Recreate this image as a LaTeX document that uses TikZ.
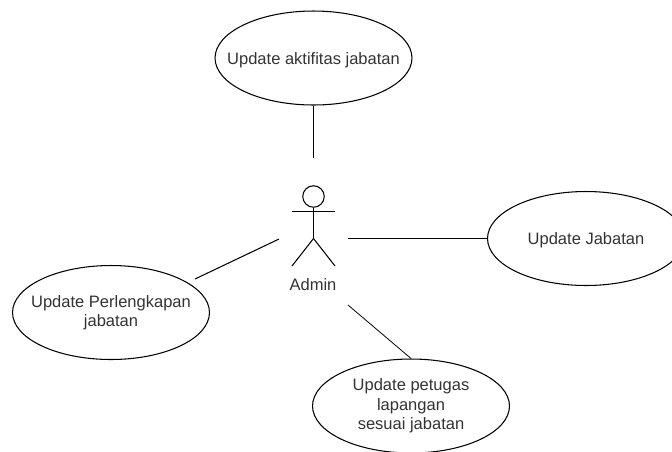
\documentclass[tikz,border=0pt]{standalone}
\usepackage{fontspec}
\setmainfont{Liberation Sans}
\usepackage{tikz}
\usetikzlibrary{shapes.geometric}

\begin{document}
\begin{tikzpicture}[x=0.02cm,y=-0.02cm,line width=0.6pt,usecasenode/.style={ellipse,draw,inner ysep=0pt,inner xsep=-0.6cm,minimum width=3.94cm,minimum height=1.88cm,align=center,text=black!80,font=\fontsize{9.4}{11}\selectfont,execute at begin node={\rule{0pt}{9pt}}},headnode/.style={circle,draw,inner sep=0pt,minimum size=0.43cm},labelnode/.style={rectangle,inner sep=1pt,text=black!80,font=\fontsize{9.4}{11}\selectfont}]
		\useasboundingbox (0, 0) rectangle (672, 451);
		\node [usecasenode] (aktifitas) at (313.5, 58) {Update aktifitas jabatan};
		\node [usecasenode] (jabatan) at (586, 238.5) {Update Jabatan};
		\node [usecasenode] (perlengkapan) at (111, 312.5) {Update Perlengkapan\\jabatan};
		\node [usecasenode] (petugas) at (411, 406) {Update petugas\\lapangan\\sesuai jabatan};
		\node [headnode] (head) at (313.5, 196.5) {};
		\node [labelnode] (admin) at (313, 285) {Admin};
		\coordinate (hip) at (313.5, 238.5);
		\coordinate (armL) at (292, 211.5);
		\coordinate (armR) at (335, 211.5);
		\coordinate (footL) at (292, 266);
		\coordinate (footR) at (335, 266);
		\coordinate (endT) at (313.5, 158);
		\coordinate (endL) at (279, 239);
		\coordinate (endR) at (348, 238.5);
		\coordinate (endB) at (348, 305);
		\coordinate (startL) at (195, 279);
		\draw (head) to (hip);
		\draw (armL) to (armR);
		\draw (footL) to (hip);
		\draw (hip) to (footR);
		\draw (aktifitas) to (endT);
		\draw (startL) to (endL);
		\draw (endR) to (jabatan);
		\draw[line width=0.45pt] (endB) to (petugas.north);
	\end{tikzpicture}
\end{document}
